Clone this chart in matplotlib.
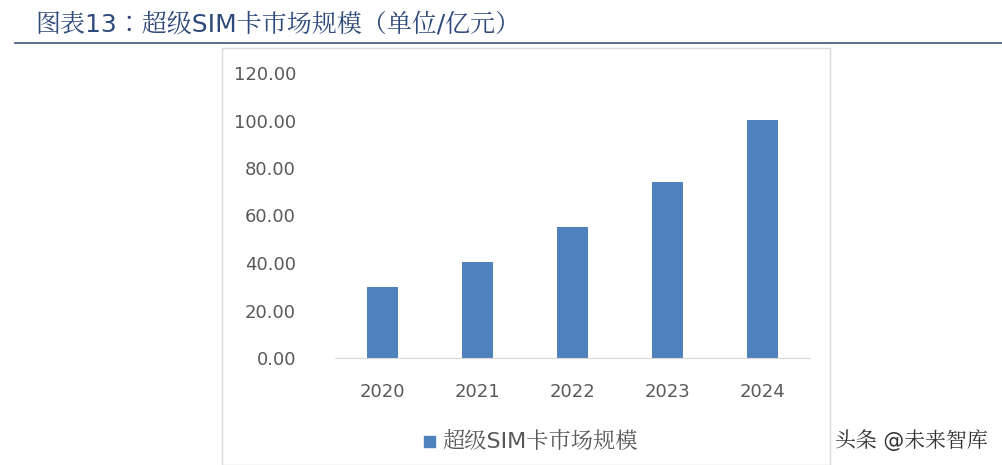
import matplotlib.pyplot as plt
from matplotlib import font_manager
from matplotlib.patches import Rectangle
from matplotlib.lines import Line2D

cjk = [f.name for f in font_manager.fontManager.ttflist if 'CJK' in f.name]
plt.rcParams['font.family'] = ['DejaVu Sans'] + sorted(set(cjk), key=lambda n: 'SC' not in n)

years = ['2020', '2021', '2022', '2023', '2024']
market_size = [30.0, 40.5, 55.0, 74.0, 100.0]
y_ticks = [0, 20, 40, 60, 80, 100, 120]
series_name = '超级SIM卡市场规模'
title = '图表13：超级SIM卡市场规模（单位/亿元）'
bar_color = '#4f81bd'

W, H = 1003, 465
fig = plt.figure(figsize=(W / 100, H / 100), dpi=100)

# header
fig.text(35 / W, 1 - 25 / H, title, fontsize=18, color='#2e4a7a', va='center', ha='left')
fig.add_artist(Line2D([15 / W, 1], [1 - 43 / H, 1 - 43 / H], color='#3b5584', lw=1.2))

# chart frame
fig.add_artist(Rectangle((222 / W, 0), (830 - 222) / W, 1 - 48 / H,
                         fill=False, ec='#d9d9d9', lw=1))

ax = fig.add_axes([335 / W, 1 - 358 / H, (810 - 335) / W, (358 - 73) / H])
ax.bar(range(len(years)), market_size, width=0.32, color=bar_color)
ax.set_xlim(-0.5, len(years) - 0.5)
ax.set_ylim(0, 120)
ax.set_yticks(y_ticks)
ax.set_yticklabels([f'{v:.2f}' for v in y_ticks])
ax.set_xticks(range(len(years)))
ax.set_xticklabels(years)
for s in ['top', 'right', 'left']:
    ax.spines[s].set_visible(False)
ax.spines['bottom'].set_color('#d9d9d9')
ax.tick_params(axis='both', length=0, labelsize=13, colors='#595959')
ax.tick_params(axis='y', pad=28)
ax.tick_params(axis='x', pad=18)

# legend
fig.add_artist(Rectangle((424 / W, 1 - 447 / H), 11 / W, 11 / H, color=bar_color))
fig.text(442 / W, 1 - 441 / H, series_name, fontsize=16, color='#595959', va='center')

# watermark
fig.text(988 / W, 1 - 440 / H, '头条 @未来智库', fontsize=15, color='#333333',
         va='center', ha='right')

fig.savefig('out.png', dpi=100)
